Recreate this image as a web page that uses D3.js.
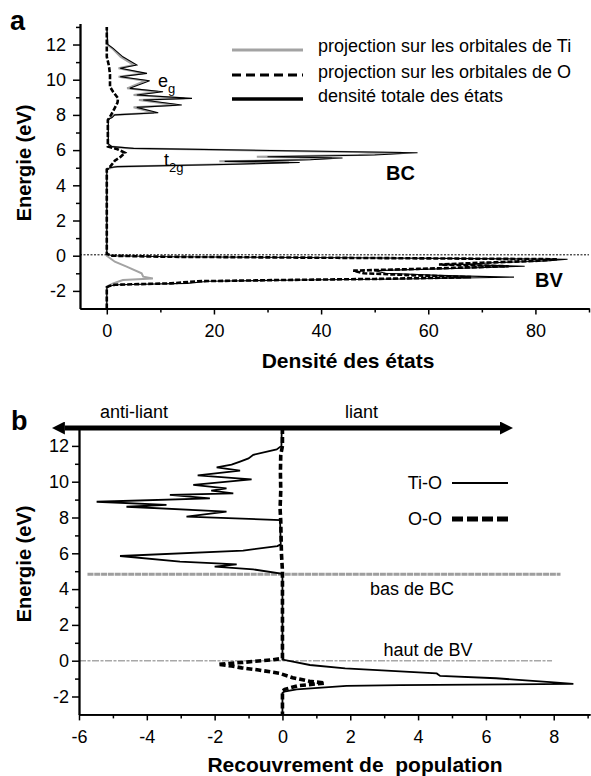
<!DOCTYPE html>
<html>
<head>
<meta charset="utf-8">
<script src="https://cdnjs.cloudflare.com/ajax/libs/d3/7.8.5/d3.min.js"></script>
<style>
	body { margin: 0; background: #fff; }
	svg { display: block; font-family: "Liberation Sans", Arial, sans-serif; }
	.tick text { font-size: 18px; fill: #000; }
	.pre { white-space: pre; }
</style>
</head>
<body>
<div id="chart"></div>
<script>
///////////////////////////////////////////////////////////////////////////
//////////////////////////// data /////////////////////////////////////////
///////////////////////////////////////////////////////////////////////////

// panel a : [energie (eV), densite]
const dosTotal = [
	[-3.0, 0], [-1.8, 0], [-1.72, 0.5], [-1.65, 2], [-1.57, 15], [-1.45, 19],
	[-1.38, 36], [-1.32, 55], [-1.22, 76], [-1.12, 62], [-1.0, 52], [-0.85, 50],
	[-0.75, 62], [-0.6, 78], [-0.5, 66], [-0.4, 72], [-0.3, 82], [-0.2, 86],
	[-0.12, 45], [-0.06, 12], [0, 1], [0.1, 0], [4.85, 0], [5.0, 0.5],
	[5.06, 2], [5.2, 24], [5.3, 36], [5.36, 22], [5.45, 38], [5.55, 44],
	[5.62, 30], [5.72, 50], [5.85, 58], [6.1, 5], [6.2, 1], [6.35, 0.3],
	[7.75, 0.3], [7.85, 1], [8.0, 1.5], [8.12, 9.6], [8.43, 5.6], [8.56, 14],
	[8.85, 6.8], [8.94, 15.9], [9.13, 5.6], [9.32, 10.5], [9.51, 4.3],
	[9.94, 8], [10.17, 2.5], [10.36, 7.5], [10.65, 2.5], [10.84, 5.6],
	[11.3, 3], [11.78, 1.2], [12.0, 0.2], [13.0, 0]
];

const dosTi = [
	[-3.0, 0], [-1.76, 0], [-1.57, 1.2], [-1.38, 3], [-1.29, 8.6], [-1.19, 6.8],
	[-1.0, 6.5], [-0.62, 3.7], [-0.34, 1.5], [0, 0], [4.9, 0], [5.06, 1.5],
	[5.2, 22], [5.3, 34], [5.36, 21], [5.45, 36], [5.55, 42], [5.62, 28],
	[5.72, 47], [5.85, 55], [6.1, 4], [6.2, 0.8], [6.35, 0.2], [7.75, 0.2],
	[7.85, 0.8], [8.0, 1.2], [8.12, 8.8], [8.43, 5], [8.56, 13], [8.85, 6],
	[8.94, 14.5], [9.13, 5], [9.32, 9.5], [9.51, 3.8], [9.94, 7.2],
	[10.17, 2.2], [10.36, 6.8], [10.65, 2.2], [10.84, 5], [11.3, 2.6],
	[11.78, 1.0], [12.0, 0.1], [13.0, 0]
];

const dosO = [
	[-3.0, 0], [-1.8, 0], [-1.72, 0.5], [-1.65, 1.5], [-1.57, 12], [-1.45, 17],
	[-1.38, 33], [-1.32, 50], [-1.22, 68], [-1.12, 58], [-1.0, 48], [-0.85, 46],
	[-0.75, 58], [-0.6, 75], [-0.5, 62], [-0.4, 70], [-0.3, 80], [-0.2, 84],
	[-0.12, 43], [-0.06, 11], [0, 1], [0.1, 0], [4.9, 0], [5.05, 0.6],
	[5.2, 1], [5.4, 1.5], [5.6, 2.5], [5.85, 3.4], [6.05, 2], [6.2, 0.2],
	[7.7, 0.2], [8.0, 0.8], [8.4, 1.5], [8.7, 2], [8.95, 2.1], [9.3, 1.2],
	[9.6, 0.6], [10.3, 0.6], [10.8, 0.4], [11.3, 0], [13.0, 0]
];

// panel b : [energie (eV), recouvrement]
const coopTiO = [
	[13.0, -0.02], [12.0, -0.03], [11.8, -0.17], [11.5, -0.86], [11.3, -1.0],
	[11.12, -1.25], [10.95, -1.5], [10.8, -1.94], [10.62, -1.25], [10.35, -2.5],
	[10.13, -0.91], [9.82, -2.63], [9.63, -1.65], [9.5, -2.1], [9.35, -1.45],
	[9.26, -3.32], [9.07, -2.14], [8.88, -5.48], [8.7, -3.42], [8.6, -4.6],
	[8.33, -1.65], [8.05, -2.83], [7.86, -0.07], [6.5, -0.05], [6.4, -0.15],
	[6.15, -1.16], [5.85, -4.79], [5.53, -3.02], [5.44, -1.94], [5.38, -1.35],
	[5.25, -2.0], [5.1, -0.86], [4.85, 0], [0.06, 0], [-0.24, 0.81],
	[-0.43, 1.85], [-0.71, 4.55], [-0.85, 4.65], [-0.98, 6.3], [-1.2, 7.9],
	[-1.3, 8.58], [-1.36, 3.47], [-1.41, 1.89], [-1.6, 0.42], [-1.73, 0.05],
	[-1.8, 0], [-3.0, 0]
];

const coopOO = [
	[13.0, 0], [12.0, 0], [11.5, -0.05], [10.5, -0.06], [9.5, -0.05],
	[8.5, -0.07], [7.8, -0.05], [6.0, -0.03], [5.0, 0], [0.13, 0],
	[0.05, -0.3], [-0.1, -1.2], [-0.2, -1.9], [-0.3, -1.5], [-0.4, -1.2],
	[-0.52, -0.7], [-0.7, -0.1], [-0.95, 0.3], [-1.15, 0.8], [-1.25, 1.25],
	[-1.4, 0.45], [-1.6, 0.07], [-1.7, 0], [-3.0, 0]
];

// niveaux de reference (panel b)
const bcLevel = 4.83;
const bcRange = [-5.75, 8.2];
const bvLevel = 0;
const bvRange = [-6, 7.95];
const arrowRange = [-6.8, 6.8];
const arrowLevel = 13;

//////////////////////////// ticks ////////////////////////////////////////

const aXTicks = [0, 20, 40, 60, 80];
const aXMinor = [10, 30, 50, 70, 90];
const aYTicks = [-2, 0, 2, 4, 6, 8, 10, 12];
const aYMinor = [-1, 1, 3, 5, 7, 9, 11, 13];
const bXTicks = [-6, -4, -2, 0, 2, 4, 6, 8];
const bXMinor = [-5, -3, -1, 1, 3, 5, 7, 9];
const bYTicks = [-2, 0, 2, 4, 6, 8, 10, 12];
const bYMinor = [-1, 1, 3, 5, 7, 9, 11];

//////////////////////////// legends //////////////////////////////////////

const legendA = [
	"projection sur les orbitales de Ti",
	"projection sur les orbitales de O",
	"densité totale des états"
];
const legendB = ["Ti-O", "O-O"];

///////////////////////////////////////////////////////////////////////////
//////////////////////////// drawing //////////////////////////////////////
///////////////////////////////////////////////////////////////////////////

const createChart = () => {
	const dimensions = { width: 591, height: 776 };

	const svg = d3.select("#chart").append("svg")
		.attr("width", dimensions.width)
		.attr("height", dimensions.height);

	svg.append("defs").append("marker")
		.attr("id", "head")
		.attr("viewBox", "0 0 10 10")
		.attr("refX", 0)
		.attr("refY", 5)
		.attr("markerWidth", 2.6)
		.attr("markerHeight", 2.6)
		.attr("orient", "auto-start-reverse")
		.append("path")
		.attr("d", "M0,0 L10,5 L0,10 z")
		.attr("fill", "#000");

	// plain hyphen for negatives, like the original
	const fmt = (d) => String(d);

	// draws the two axes of a panel: major ticks labelled, minor ones bare
	const drawAxes = (g, x, y, o) => {
		const xg = g.append("g").attr("transform", `translate(0,${y.range()[0]})`);
		xg.call(d3.axisBottom(x).tickValues(o.xMinor).tickSize(4).tickFormat("").tickSizeOuter(0));
		xg.append("g").call(d3.axisBottom(x).tickValues(o.xTicks).tickSize(6).tickPadding(o.xPad).tickFormat(fmt).tickSizeOuter(0));
		const yg = g.append("g").attr("transform", `translate(${x.range()[0]},0)`);
		yg.call(d3.axisLeft(y).tickValues(o.yMinor).tickSize(4).tickFormat("").tickSizeOuter(0));
		yg.append("g").call(d3.axisLeft(y).tickValues(o.yTicks).tickSize(7).tickPadding(o.yPad).tickFormat(fmt).tickSizeOuter(0));
		g.selectAll(".domain").attr("stroke", "#000").attr("stroke-width", 1.8);
		g.selectAll(".tick line").attr("stroke", "#000").attr("stroke-width", 1.5);
		g.selectAll(".tick text").attr("font-family", null).attr("font-size", null);
	};

	///////////////////////////////////////////////////////////////////////
	//////////////////////////// panel a //////////////////////////////////
	///////////////////////////////////////////////////////////////////////

	const xA = d3.scaleLinear().domain([-5, 90]).range([80, 589]);
	const yA = d3.scaleLinear().domain([-3, 13.2]).range([308.5, 23.4]);
	const gA = svg.append("g");

	// Fermi level
	gA.append("line")
		.attr("x1", xA(-5)).attr("x2", xA(90))
		.attr("y1", yA(0.05)).attr("y2", yA(0.05))
		.attr("stroke", "#000").attr("stroke-width", 1)
		.attr("stroke-dasharray", "2,1.5");

	const lineA = d3.line().x((d) => xA(d[1])).y((d) => yA(d[0]));

	gA.append("path").datum(dosTi).attr("d", lineA)
		.attr("fill", "none").attr("stroke", "#a3a3a3").attr("stroke-width", 2);
	gA.append("path").datum(dosTotal).attr("d", lineA)
		.attr("fill", "none").attr("stroke", "#000").attr("stroke-width", 1.1);
	gA.append("path").datum(dosO).attr("d", lineA)
		.attr("fill", "none").attr("stroke", "#000").attr("stroke-width", 2.6)
		.attr("stroke-dasharray", "5,2");

	drawAxes(gA, xA, yA, {
		xTicks: aXTicks, xMinor: aXMinor, yTicks: aYTicks, yMinor: aYMinor,
		xPad: 10, yPad: 7
	});

	// legend
	const legStyles = [
		{ stroke: "#a3a3a3", dash: null, w: 3 },
		{ stroke: "#000", dash: "9,5", w: 3 },
		{ stroke: "#000", dash: null, w: 3.5 }
	];
	const legY = [50, 75, 99];
	legendA.forEach((t, i) => {
		gA.append("line")
			.attr("x1", 232).attr("x2", 303)
			.attr("y1", legY[i]).attr("y2", legY[i])
			.attr("stroke", legStyles[i].stroke)
			.attr("stroke-width", legStyles[i].w)
			.attr("stroke-dasharray", legStyles[i].dash);
		gA.append("text")
			.attr("x", 318).attr("y", legY[i] + 2 + i * 0.5)
			.attr("font-size", 18)
			.text(t);
	});

	const eg = gA.append("text").attr("x", 158).attr("y", 87).attr("font-size", 18);
	eg.append("tspan").text("e");
	eg.append("tspan").attr("dy", 6).attr("font-size", 13).text("g");

	const t2g = gA.append("text").attr("x", 164).attr("y", 166).attr("font-size", 18);
	t2g.append("tspan").text("t");
	t2g.append("tspan").attr("dy", 6).attr("font-size", 13).text("2g");

	gA.append("text").attr("x", 386).attr("y", 180)
		.attr("font-size", 20).attr("font-weight", "bold").text("BC");
	gA.append("text").attr("x", 535).attr("y", 287)
		.attr("font-size", 20).attr("font-weight", "bold").text("BV");

	gA.append("text").attr("x", 348).attr("y", 368)
		.attr("text-anchor", "middle")
		.attr("font-size", 21).attr("font-weight", "bold")
		.text("Densité des états");

	gA.append("text")
		.attr("transform", "translate(31,163) rotate(-90)")
		.attr("text-anchor", "middle")
		.attr("font-size", 20).attr("font-weight", "bold")
		.text("Energie (eV)");

	svg.append("text").attr("x", 10).attr("y", 30)
		.attr("font-size", 27).attr("font-weight", "bold").text("a");

	///////////////////////////////////////////////////////////////////////
	//////////////////////////// panel b //////////////////////////////////
	///////////////////////////////////////////////////////////////////////

	const xB = d3.scaleLinear().domain([-6, 9.07]).range([79, 590]);
	const yB = d3.scaleLinear().domain([-3, 13]).range([714.4, 428]);
	const gB = svg.append("g");

	// bas de BC / haut de BV
	gB.append("line")
		.attr("x1", xB(bcRange[0])).attr("x2", xB(bcRange[1]))
		.attr("y1", yB(bcLevel)).attr("y2", yB(bcLevel))
		.attr("stroke", "#9e9e9e").attr("stroke-width", 3.2)
		.attr("stroke-dasharray", "6,0.8");
	gB.append("line")
		.attr("x1", xB(bvRange[0])).attr("x2", xB(bvRange[1]))
		.attr("y1", yB(bvLevel)).attr("y2", yB(bvLevel))
		.attr("stroke", "#a8a8a8").attr("stroke-width", 1.6)
		.attr("stroke-dasharray", "7,1.5,3,1.5");

	const lineB = d3.line().x((d) => xB(d[1])).y((d) => yB(d[0]));

	gB.append("path").datum(coopTiO).attr("d", lineB)
		.attr("fill", "none").attr("stroke", "#000").attr("stroke-width", 1.8);
	gB.append("path").datum(coopOO).attr("d", lineB)
		.attr("fill", "none").attr("stroke", "#000").attr("stroke-width", 3.6)
		.attr("stroke-dasharray", "6,3");

	drawAxes(gB, xB, yB, {
		xTicks: bXTicks, xMinor: bXMinor, yTicks: bYTicks, yMinor: bYMinor,
		xPad: 10, yPad: 3
	});

	// double arrow anti-liant / liant
	gB.append("line")
		.attr("x1", xB(arrowRange[0]) + 13).attr("x2", xB(arrowRange[1]) - 13)
		.attr("y1", yB(arrowLevel)).attr("y2", yB(arrowLevel))
		.attr("stroke", "#000").attr("stroke-width", 5)
		.attr("marker-start", "url(#head)")
		.attr("marker-end", "url(#head)");

	gB.append("text").attr("x", 100).attr("y", 418).attr("font-size", 18).text("anti-liant");
	gB.append("text").attr("x", 345).attr("y", 418).attr("font-size", 18).text("liant");

	// legend
	const legBY = [483, 519];
	legendB.forEach((t, i) => {
		gB.append("text")
			.attr("x", 442).attr("y", legBY[i] + 6)
			.attr("text-anchor", "end")
			.attr("font-size", 18)
			.text(t);
		gB.append("line")
			.attr("x1", 452).attr("x2", 508)
			.attr("y1", legBY[i]).attr("y2", legBY[i])
			.attr("stroke", "#000")
			.attr("stroke-width", i === 0 ? 1.8 : 5)
			.attr("stroke-dasharray", i === 0 ? null : "11,4");
	});

	gB.append("text").attr("x", 412).attr("y", 595)
		.attr("text-anchor", "middle").attr("font-size", 18).text("bas de BC");
	gB.append("text").attr("x", 428).attr("y", 656)
		.attr("text-anchor", "middle").attr("font-size", 18).text("haut de BV");

	gB.append("text").attr("x", 355).attr("y", 772)
		.attr("class", "pre")
		.attr("text-anchor", "middle")
		.attr("font-size", 21).attr("font-weight", "bold")
		.text("Recouvrement de  population");

	gB.append("text")
		.attr("transform", "translate(31,564) rotate(-90)")
		.attr("text-anchor", "middle")
		.attr("font-size", 20).attr("font-weight", "bold")
		.text("Energie (eV)");

	svg.append("text").attr("x", 11).attr("y", 430)
		.attr("font-size", 27).attr("font-weight", "bold").text("b");
};

createChart();
</script>
</body>
</html>
